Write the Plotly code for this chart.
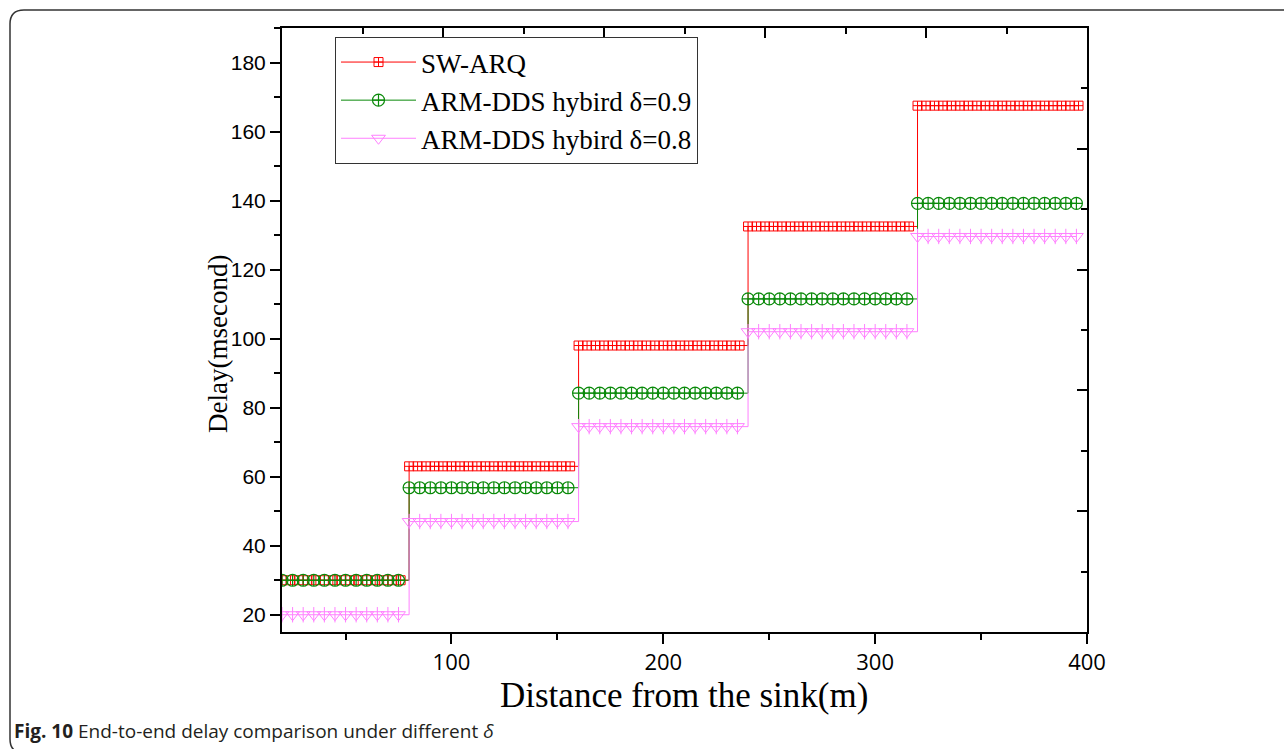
import plotly.graph_objects as go

# Distances (m) at which each scheme's delay is plotted
dist_sw = [20, 24, 28, 32, 36, 40, 44, 48, 52, 56, 60, 64, 68, 72, 76,
           80, 84, 88, 92, 96, 100, 104, 108, 112, 116, 120, 124, 128, 132, 136, 140, 144, 148, 152, 156,
           160, 164, 168, 172, 176, 180, 184, 188, 192, 196, 200, 204, 208, 212, 216, 220, 224, 228, 232, 236,
           240, 244, 248, 252, 256, 260, 264, 268, 272, 276, 280, 284, 288, 292, 296, 300, 304, 308, 312, 316,
           320, 324, 328, 332, 336, 340, 344, 348, 352, 356, 360, 364, 368, 372, 376, 380, 384, 388, 392, 396]
dist_hy = [20, 25, 30, 35, 40, 45, 50, 55, 60, 65, 70, 75,
           80, 85, 90, 95, 100, 105, 110, 115, 120, 125, 130, 135, 140, 145, 150, 155,
           160, 165, 170, 175, 180, 185, 190, 195, 200, 205, 210, 215, 220, 225, 230, 235,
           240, 245, 250, 255, 260, 265, 270, 275, 280, 285, 290, 295, 300, 305, 310, 315,
           320, 325, 330, 335, 340, 345, 350, 355, 360, 365, 370, 375, 380, 385, 390, 395]

# Hop boundaries (m) and the delay (ms) on each hop
hop_start = [20, 80, 160, 240, 320]
delay_sw = [30, 63, 98, 132.5, 167.5]
delay_h09 = [30, 56.8, 84.2, 111.5, 139.2]
delay_h08 = [20, 47, 74.5, 102, 129.6]

series_names = ["SW-ARQ", "ARM-DDS hybird δ=0.9", "ARM-DDS hybird δ=0.8"]


def hop_delay(distances, levels):
    out = []
    for d in distances:
        k = max(i for i, s in enumerate(hop_start) if d >= s)
        out.append(levels[k])
    return out


RED = "#FF0000"
GREEN = "#0A8A0A"
PINK = "#FF80FF"

# Plot-area placement in pixels
W, H = 1284, 749
L, R, T, B = 282, 1087, 28, 632


def px_x(p):
    return (p - L) / (R - L)


def px_y(p):
    return (B - p) / (B - T)


fig = go.Figure()

fig.add_trace(go.Scatter(
    x=dist_sw, y=hop_delay(dist_sw, delay_sw), name=series_names[0],
    mode="lines+markers", line=dict(color=RED, width=1, shape="hv"),
    marker=dict(symbol="square-cross-open", size=9, color=RED, line=dict(width=1, color=RED)),
    legendgroup="a",
))
fig.add_trace(go.Scatter(
    x=dist_hy, y=hop_delay(dist_hy, delay_h09), name=series_names[1],
    mode="lines+markers", line=dict(color=GREEN, width=1, shape="hv"),
    marker=dict(symbol="circle-cross-open", size=12, color=GREEN, line=dict(width=1.2, color=GREEN)),
    legendgroup="b",
))
fig.add_trace(go.Scatter(
    x=dist_hy, y=hop_delay(dist_hy, delay_h08), name=series_names[2],
    mode="lines+markers", line=dict(color=PINK, width=1, shape="hv"),
    marker=dict(symbol="triangle-down-open", size=12, color=PINK, line=dict(width=1, color=PINK)),
    legendgroup="c",
))
# vertical stroke inside each triangle
fig.add_trace(go.Scatter(
    x=dist_hy, y=hop_delay(dist_hy, delay_h08), mode="markers", showlegend=False,
    marker=dict(symbol="line-ns", size=11, color=PINK, line=dict(width=1, color=PINK)),
    legendgroup="c", hoverinfo="skip",
))

axis_line = dict(showline=True, linecolor="black", linewidth=2, showgrid=False, zeroline=False)

fig.update_layout(
    width=W, height=H,
    margin=dict(l=L, r=W - R, t=T, b=H - B),
    paper_bgcolor="white", plot_bgcolor="white",
    showlegend=True,
    legend=dict(
        x=px_x(335), y=px_y(37), xanchor="left", yanchor="top",
        bgcolor="white", bordercolor="#333333", borderwidth=1,
        font=dict(family="Liberation Serif", size=27, color="black"),
        tracegroupgap=0, itemwidth=75,
    ),
    xaxis=dict(
        range=[20, 400], tick0=0, dtick=100, ticks="outside", ticklen=10, tickwidth=2,
        tickcolor="black",
        minor=dict(dtick=50, tick0=0, ticks="outside", ticklen=6, tickwidth=2, tickcolor="black"),
        tickfont=dict(family="Open Sans", size=22, color="black"),
        **axis_line,
    ),
    yaxis=dict(
        range=[15, 190], tick0=0, dtick=20, ticks="outside", ticklen=10, tickwidth=2,
        tickcolor="black",
        minor=dict(dtick=10, tick0=0, ticks="outside", ticklen=6, tickwidth=2, tickcolor="black"),
        tickfont=dict(family="Liberation Sans", size=21, color="black"),
        **axis_line,
    ),
    xaxis2=dict(
        overlaying="x", side="top", range=[20, 400], tick0=20, dtick=76,
        ticks="inside", ticklen=10, tickwidth=2, tickcolor="black", showticklabels=False,
        minor=dict(dtick=38, tick0=20, ticks="inside", ticklen=6, tickwidth=2, tickcolor="black"),
        **axis_line,
    ),
    yaxis2=dict(
        overlaying="y", side="right", range=[15, 190], tick0=15, dtick=35,
        ticks="inside", ticklen=10, tickwidth=2, tickcolor="black", showticklabels=False,
        minor=dict(dtick=17.5, tick0=15, ticks="inside", ticklen=6, tickwidth=2, tickcolor="black"),
        **axis_line,
    ),
)

# anchor the opposite axes with an empty trace
fig.add_trace(go.Scatter(x=[None], y=[None], xaxis="x2", yaxis="y2", showlegend=False,
                         hoverinfo="skip"))

fig.add_annotation(
    text="Distance from the sink(m)", xref="paper", yref="paper",
    x=px_x(684), y=px_y(695), xanchor="center", yanchor="middle", showarrow=False,
    font=dict(family="Liberation Serif", size=35, color="black"),
)
fig.add_annotation(
    text="Delay(msecond)", xref="paper", yref="paper", textangle=-90,
    x=px_x(218), y=px_y(344), xanchor="center", yanchor="middle", showarrow=False,
    font=dict(family="Liberation Serif", size=27, color="black"),
)
fig.add_annotation(
    text="<b>Fig. 10</b> End-to-end delay comparison under different <i>δ</i>",
    xref="paper", yref="paper", x=px_x(12), y=px_y(731), xanchor="left", yanchor="middle",
    showarrow=False, font=dict(family="Open Sans", size=19, color="#231F20"),
)

# rounded outer frame (open on the right and bottom edges of the page)
r = 14
frame = (
    f"M {px_x(W + 5)},{px_y(10)} L {px_x(10 + r)},{px_y(10)} "
    f"Q {px_x(10)},{px_y(10)} {px_x(10)},{px_y(10 + r)} "
    f"L {px_x(10)},{px_y(753 - r)} Q {px_x(10)},{px_y(753)} {px_x(10 + r)},{px_y(753)} "
    f"L {px_x(W + 5)},{px_y(753)}"
)
fig.add_shape(type="path", path=frame, xref="paper", yref="paper",
              line=dict(color="#333333", width=1.5), layer="below")

fig.write_html("out.html")
